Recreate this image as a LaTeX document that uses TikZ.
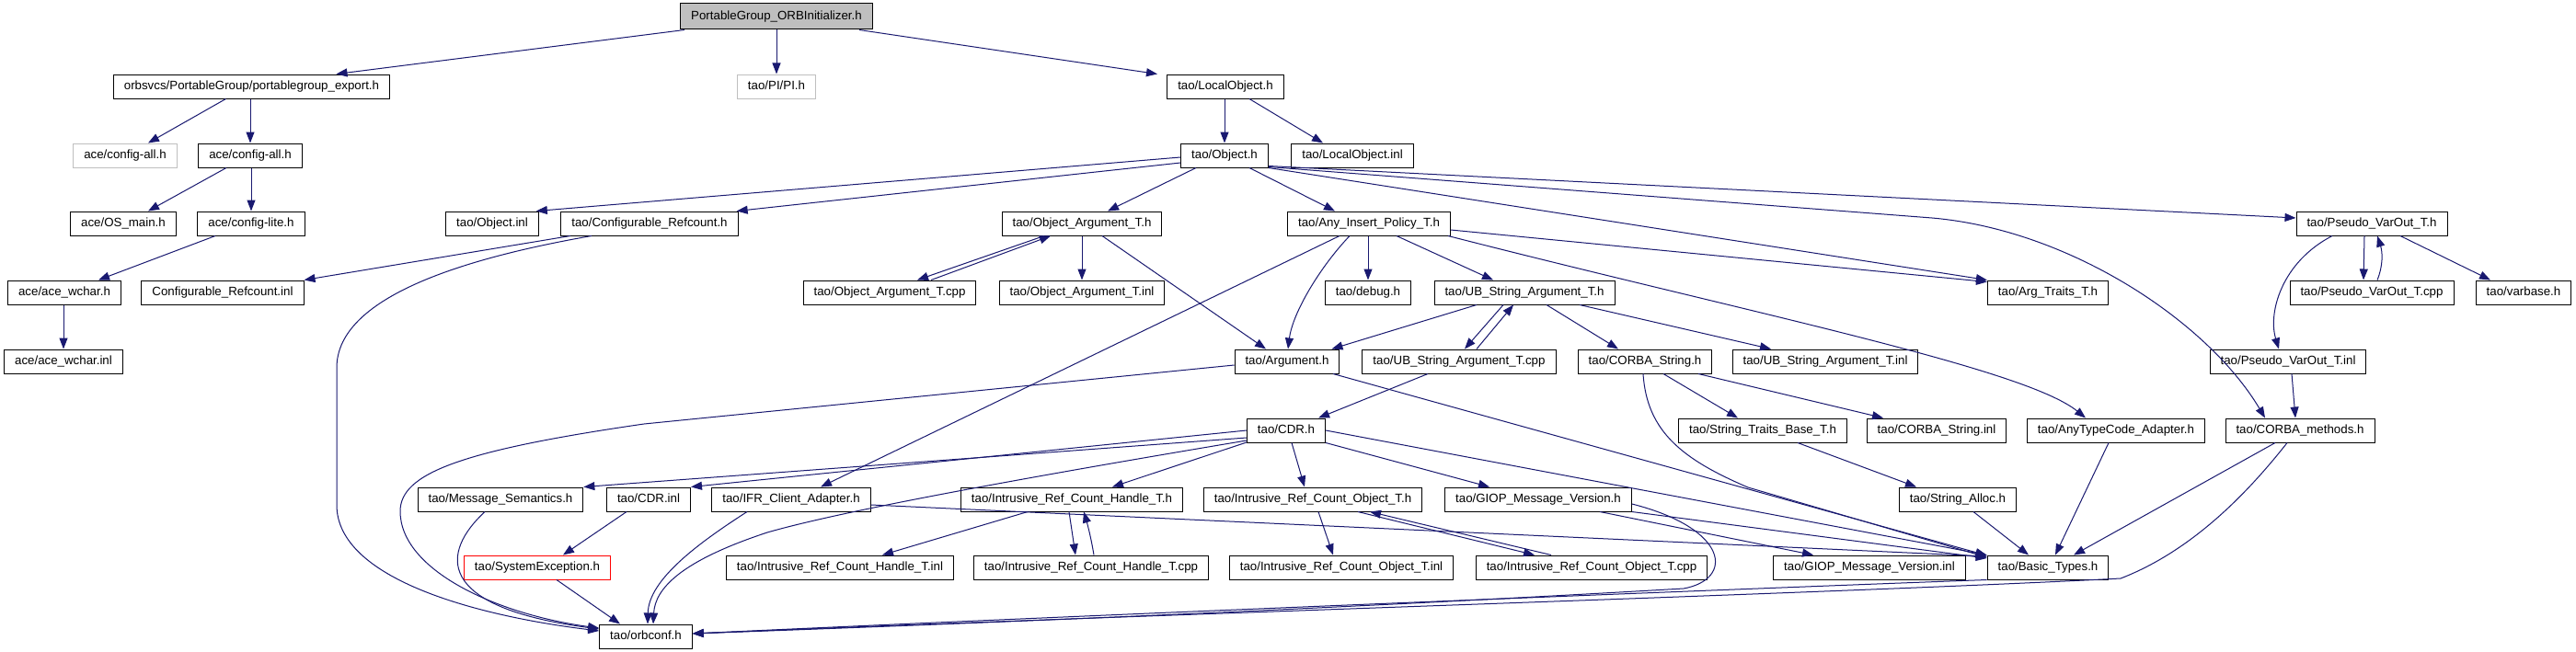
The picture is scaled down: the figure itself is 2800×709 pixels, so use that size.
\documentclass[tikz,border=0pt]{standalone}
\usepackage{fontspec}
\setmainfont{Liberation Sans}
\usetikzlibrary{arrows.meta}
\definecolor{edgec}{HTML}{191970}
\definecolor{grayc}{HTML}{BFBFBF}
\begin{document}
\begin{tikzpicture}[x=1pt,y=-1pt,
 box/.style={draw=black,line width=1pt,fill=white,minimum height=26pt,inner xsep=11.5pt,inner ysep=0pt,
   text height=10pt,text depth=3pt,font=\fontsize{13.3}{15}\selectfont},
 graybox/.style={box,draw=grayc},
 redbox/.style={box,draw=red},
 rootbox/.style={box,fill=grayc,minimum height=28pt},
 e/.style={draw=edgec,line width=1pt,-{Triangle[length=12pt,width=9pt]}}]
\useasboundingbox[fill=white] (0,0) rectangle (2800,709);
% nodes
\node[rootbox] (ORBInit) at (844,18) {PortableGroup\_ORBInitializer.h};
\node[box] (pgexp) at (273.5,94) {orbsvcs/PortableGroup/portablegroup\_export.h};
\node[graybox] (PI) at (844,94) {tao/PI/PI.h};
\node[box] (LocalObject) at (1332,94) {tao/LocalObject.h};
\node[graybox] (cfgallg) at (136,169) {ace/config-all.h};
\node[box] (cfgall) at (272,169) {ace/config-all.h};
\node[box] (Object) at (1331,169) {tao/Object.h};
\node[box] (LocalObjectinl) at (1470,169) {tao/LocalObject.inl};
\node[box] (OSmain) at (134,243) {ace/OS\_main.h};
\node[box] (cfglite) at (273,243) {ace/config-lite.h};
\node[box] (Objectinl) at (535,243) {tao/Object.inl};
\node[box] (ConfRef) at (706,243) {tao/Configurable\_Refcount.h};
\node[box] (ObjArg) at (1176,243) {tao/Object\_Argument\_T.h};
\node[box] (AnyIns) at (1488,243) {tao/Any\_Insert\_Policy\_T.h};
\node[box] (PseudoH) at (2578,243) {tao/Pseudo\_VarOut\_T.h};
\node[box] (wchar) at (70,318) {ace/ace\_wchar.h};
\node[box] (ConfRefinl) at (242,318) {Configurable\_Refcount.inl};
\node[box] (ObjArgcpp) at (967,318) {tao/Object\_Argument\_T.cpp};
\node[box] (ObjArginl) at (1176,318) {tao/Object\_Argument\_T.inl};
\node[box] (debug) at (1487,318) {tao/debug.h};
\node[box] (UBH) at (1657,318) {tao/UB\_String\_Argument\_T.h};
\node[box] (ArgTraits) at (2226,318) {tao/Arg\_Traits\_T.h};
\node[box] (Pseudocpp) at (2578,318) {tao/Pseudo\_VarOut\_T.cpp};
\node[box] (varbase) at (2743,318) {tao/varbase.h};
\node[box] (wcharinl) at (69,393) {ace/ace\_wchar.inl};
\node[box] (Argument) at (1399,393) {tao/Argument.h};
\node[box] (UBcpp) at (1586,393) {tao/UB\_String\_Argument\_T.cpp};
\node[box] (CORBAStrH) at (1788,393) {tao/CORBA\_String.h};
\node[box] (UBinl) at (1984,393) {tao/UB\_String\_Argument\_T.inl};
\node[box] (Pseudoinl) at (2487,393) {tao/Pseudo\_VarOut\_T.inl};
\node[box] (CDR) at (1398,468) {tao/CDR.h};
\node[box] (StrTraits) at (1916,468) {tao/String\_Traits\_Base\_T.h};
\node[box] (CORBAStrinl) at (2105,468) {tao/CORBA\_String.inl};
\node[box] (AnyTC) at (2300,468) {tao/AnyTypeCode\_Adapter.h};
\node[box] (CORBAmeth) at (2500,468) {tao/CORBA\_methods.h};
\node[box] (MsgSem) at (544,543) {tao/Message\_Semantics.h};
\node[box] (CDRinl) at (705,543) {tao/CDR.inl};
\node[box] (IFR) at (860,543) {tao/IFR\_Client\_Adapter.h};
\node[box] (IRCHH) at (1165,543) {tao/Intrusive\_Ref\_Count\_Handle\_T.h};
\node[box] (IRCOH) at (1427,543) {tao/Intrusive\_Ref\_Count\_Object\_T.h};
\node[box] (GIOPH) at (1672,543) {tao/GIOP\_Message\_Version.h};
\node[box] (StringAlloc) at (2128,543) {tao/String\_Alloc.h};
\node[redbox] (SysExc) at (584,617) {tao/SystemException.h};
\node[box] (IRCHinl) at (913,617) {tao/Intrusive\_Ref\_Count\_Handle\_T.inl};
\node[box] (IRCHcpp) at (1186,617) {tao/Intrusive\_Ref\_Count\_Handle\_T.cpp};
\node[box] (IRCOinl) at (1458,617) {tao/Intrusive\_Ref\_Count\_Object\_T.inl};
\node[box] (IRCOcpp) at (1730,617) {tao/Intrusive\_Ref\_Count\_Object\_T.cpp};
\node[box] (GIOPinl) at (2032,617) {tao/GIOP\_Message\_Version.inl};
\node[box] (BasicTypes) at (2226,617) {tao/Basic\_Types.h};
\node[box] (orbconf) at (702,692) {tao/orbconf.h};
% edges
\draw[e] ([xshift=-100pt]ORBInit.south) -- ([xshift=92pt]pgexp.north);
\draw[e] (ORBInit.south) -- (PI.north);
\draw[e] ([xshift=90pt]ORBInit.south) -- ([xshift=-74pt]LocalObject.north);
\draw[e] ([xshift=-28pt]pgexp.south) -- ([xshift=25pt]cfgallg.north);
\draw[e] (cfgall.north |- pgexp.south) -- (cfgall.north);
\draw[e] ([xshift=-26pt]cfgall.south) -- ([xshift=27pt]OSmain.north);
\draw[e] (cfglite.north |- cfgall.south) -- (cfglite.north);
\draw[e] ([xshift=-39pt]cfglite.south) -- ([xshift=37pt]wchar.north);
\draw[e] (wcharinl.north |- wchar.south) -- (wcharinl.north);
\draw[e] (Object.north |- LocalObject.south) -- (Object.north);
\draw[e] ([xshift=26pt]LocalObject.south) -- ([xshift=-32pt]LocalObjectinl.north);
\draw[e] ([yshift=-2pt]Object.west) -- ([xshift=-3pt]Objectinl.north east);
\draw[e] ([yshift=-8pt]Object.west) -- ([xshift=-2pt]ConfRef.north east);
\draw[e] ([xshift=-31pt]Object.south) -- ([xshift=28pt]ObjArg.north);
\draw[e] ([xshift=27pt]Object.south) -- ([xshift=-37pt]AnyIns.north);
\draw[e] ([yshift=2pt]Object.south east) -- ([yshift=6pt]PseudoH.west);
\draw[e] (Object.south east) -- (ArgTraits.north west);
\draw[e] ([yshift=1pt]Object.south east) -- (2100,237) .. controls (2250,250) and (2400,350) .. ([xshift=-38pt]CORBAmeth.north);
\draw[e] ([xshift=-86pt]ConfRef.south) -- (ConfRefinl.north east);
\draw[e] ([xshift=-63pt]ConfRef.south) .. controls (480,285) and (366,330) .. (366,400) -- (366,549) .. controls (366,630) and (520,670) .. ([yshift=6pt]orbconf.west);
\draw[e] ([xshift=-41pt]ObjArg.south) -- ([xshift=30pt]ObjArgcpp.north);
\draw[e] ([xshift=45pt]ObjArgcpp.north) -- ([xshift=-34pt]ObjArg.south);
\draw[e] (ObjArginl.north |- ObjArg.south) -- (ObjArginl.north);
\draw[e] ([xshift=22pt]ObjArg.south) -- ([xshift=-23pt]Argument.north);
\draw[e] (debug.north |- AnyIns.south) -- (debug.north);
\draw[e] ([xshift=30pt]AnyIns.south) -- ([xshift=-34pt]UBH.north);
\draw[e] ([xshift=-21pt]AnyIns.south) .. controls (1435,290) and (1405,340) .. ([xshift=1pt]Argument.north);
\draw[e] ([xshift=-32pt]AnyIns.south) -- ([xshift=32pt]IFR.north);
\draw[e] ([yshift=-7pt]AnyIns.east) -- ([yshift=-2pt]ArgTraits.north west);
\draw[e] ([xshift=86pt]AnyIns.south) .. controls (1900,340) and (2200,400) .. ([xshift=-33pt]AnyTC.north);
\draw[e] ([xshift=-8pt]PseudoH.south) -- ([xshift=-9pt]Pseudocpp.north);
\draw[e] ([xshift=6pt]Pseudocpp.north) .. controls (2590,290) and (2590,275) .. ([xshift=6pt]PseudoH.south);
\draw[e] ([xshift=31pt]PseudoH.south) -- ([xshift=-36pt]varbase.north);
\draw[e] ([xshift=-43pt]PseudoH.south) .. controls (2480,285) and (2465,340) .. ([xshift=-10pt]Pseudoinl.north);
\draw[e] ([xshift=4pt]Pseudoinl.south) -- ([xshift=-5pt]CORBAmeth.north);
\draw[e] ([xshift=-52pt]UBH.south) -- ([xshift=-9pt]Argument.north east);
\draw[e] ([xshift=-23pt]UBH.south) -- ([xshift=6pt]UBcpp.north);
\draw[e] ([xshift=19pt]UBcpp.north) -- ([xshift=-12pt]UBH.south);
\draw[e] ([xshift=24pt]UBH.south) -- ([xshift=-29pt]CORBAStrH.north);
\draw[e] ([xshift=60pt]UBH.south) -- ([xshift=-59pt]UBinl.north);
\draw[e] ([xshift=-34pt]UBcpp.south) -- ([xshift=-8pt]CDR.north east);
\draw[e] ([yshift=-4pt]Argument.west) -- (700,461) .. controls (500,490) and (435,515) .. (435,556) .. controls (435,620) and (540,668) .. ([yshift=9pt]orbconf.west);
\draw[e] ([xshift=50pt]Argument.south) -- ([yshift=13pt]BasicTypes.west);
\draw[e] ([xshift=20pt]CORBAStrH.south) -- ([xshift=-27pt]StrTraits.north);
\draw[e] ([xshift=58pt]CORBAStrH.south) -- ([xshift=-58pt]CORBAStrinl.north);
\draw[e] ([xshift=-2pt]CORBAStrH.south) .. controls (1790,470) and (1830,500) .. (1900,530) -- ([yshift=11pt]BasicTypes.west);
\draw[e] ([xshift=38pt]StrTraits.south) -- ([xshift=-45pt]StringAlloc.north);
\draw[e] ([xshift=17pt]StringAlloc.south) -- ([xshift=-21pt]BasicTypes.north);
\draw[e] ([xshift=-8pt]AnyTC.south) -- ([xshift=8pt]BasicTypes.north);
\draw[e] ([xshift=-27pt]CORBAmeth.south) -- ([xshift=28pt]BasicTypes.north);
\draw[e] ([xshift=-14pt]CORBAmeth.south) .. controls (2440,540) and (2380,600) .. (2305,629) .. controls (2000,645) and (1200,670) .. ([yshift=3pt]orbconf.east);
\draw[e] ([yshift=-8pt]CDR.west) -- (MsgSem.north east);
\draw[e] (CDR.west) -- (CDRinl.north east);
\draw[e] ([yshift=-11pt]CDR.west) .. controls (1050,530) and (900,560) .. (834,579) .. controls (740,610) and (712,640) .. ([xshift=8pt]orbconf.north);
\draw[e] ([yshift=-13pt]CDR.west) -- ([xshift=44pt]IRCHH.north);
\draw[e] ([xshift=6pt]CDR.south) -- ([xshift=-9pt]IRCOH.north);
\draw[e] (CDR.south east) -- ([xshift=-53pt]GIOPH.north);
\draw[e] (CDR.east) -- (BasicTypes.north west);
\draw[e] ([xshift=-17pt]MsgSem.south) .. controls (480,600) and (470,660) .. ([yshift=8pt]orbconf.west);
\draw[e] ([xshift=-24pt]CDRinl.south) -- ([xshift=28pt]SysExc.north);
\draw[e] ([xshift=21pt]SysExc.south) -- ([xshift=-28pt]orbconf.north);
\draw[e] ([xshift=-48pt]IFR.south) .. controls (760,590) and (705,630) .. ([xshift=2pt]orbconf.north);
\draw[e] ([yshift=-6pt]IFR.east) -- ([yshift=12pt]BasicTypes.west);
\draw[e] ([xshift=-48pt]IRCHH.south) -- ([xshift=46pt]IRCHinl.north);
\draw[e] ([xshift=-3pt]IRCHH.south) -- ([xshift=-17pt]IRCHcpp.north);
\draw[e] ([xshift=3pt]IRCHcpp.north) .. controls (1186,585) and (1182,570) .. ([xshift=13pt]IRCHH.south);
\draw[e] ([xshift=6pt]IRCOH.south) -- ([xshift=-9pt]IRCOinl.north);
\draw[e] ([xshift=49pt]IRCOH.south) -- ([xshift=-62pt]IRCOcpp.north);
\draw[e] ([xshift=-44pt]IRCOcpp.north) -- ([xshift=62pt]IRCOH.south);
\draw[e] ([xshift=67pt]GIOPH.south) -- ([xshift=-61pt]GIOPinl.north);
\draw[e] (GIOPH.south east) -- ([yshift=10pt]BasicTypes.west);
\draw[e] ([yshift=-5pt]GIOPH.east) .. controls (1880,575) and (1885,630) .. (1830,640) .. controls (1400,665) and (1000,680) .. ([yshift=3pt]orbconf.east);
\draw[e] (BasicTypes.south west) .. controls (1900,640) and (1200,668) .. ([yshift=3pt]orbconf.east);
\end{tikzpicture}
\end{document}
